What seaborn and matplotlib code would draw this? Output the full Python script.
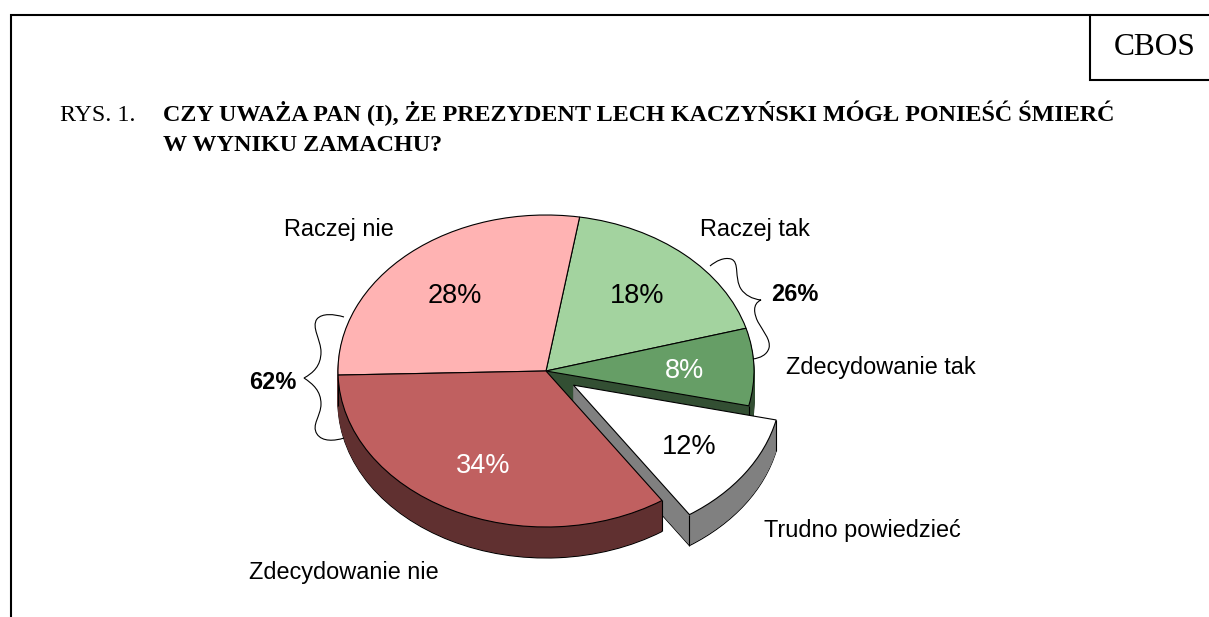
import numpy as np
import seaborn as sns
import matplotlib.pyplot as plt
from matplotlib.path import Path
from matplotlib.patches import PathPatch

categories = ["Raczej tak", "Zdecydowanie tak", "Trudno powiedzieć", "Zdecydowanie nie", "Raczej nie"]
values = [18, 8, 12, 34, 28]
explode = [0, 0, 0.16, 0, 0]
top_colors = ["#a3d39f", "#669e66", "#ffffff", "#c06060", "#ffb3b3"]
group_labels = ["26%", "62%"]
title_prefix = "RYS. 1."
title_lines = ["CZY UWAŻA PAN (I), ŻE PREZYDENT LECH KACZYŃSKI MÓGŁ PONIEŚĆ ŚMIERĆ",
               "W WYNIKU ZAMACHU?"]

W, H = 1209, 617
# ellipse of the pie in pixels
CX, CY, RX, RY = 546, 371, 208, 156
DEPTH = 31
START = 80.7

sns.set_theme(style="white")
fig = plt.figure(figsize=(W / 100, H / 100), dpi=100, facecolor="white")

# pie axes: unit circle stretched to the ellipse
ax = fig.add_axes([0, 0, 1, 1])
side_colors = [tuple(c * 0.5 for c in col) for col in sns.color_palette(top_colors)]


def layer(dy, colors, keep, lw):
    ec = "black" if lw > 0 else "none"
    wedges, _ = ax.pie(values, explode=explode, colors=colors, startangle=START,
                       counterclock=False, center=(0, -dy / RY), radius=1,
                       frame=False, wedgeprops=dict(edgecolor=ec, linewidth=lw))
    for i, w in enumerate(wedges):
        if i not in keep:
            w.remove()
        elif lw == 0:
            w.set_edgecolor(side_colors[i])
            w.set_linewidth(0.6)


def stack(keep):
    layer(DEPTH, side_colors, keep, 0.8)
    for dy in range(DEPTH - 1, 0, -1):
        layer(dy, side_colors, keep, 0)
    # vertical edges at the ends of each slice
    ends = np.cumsum(values) / sum(values) * 360
    for i in keep:
        a0 = np.radians(START - (ends[i] - values[i] / sum(values) * 360))
        a1 = np.radians(START - ends[i])
        mid = (a0 + a1) / 2
        ox, oy = explode[i] * np.cos(mid), explode[i] * np.sin(mid)
        for a in (a0, a1):
            x = ox + np.cos(a)
            y = oy + np.sin(a)
            if y < 0.0:
                ax.plot([x, x], [y, y - DEPTH / RY], color="black", lw=0.8,
                        solid_capstyle="butt", zorder=1)
    layer(0, top_colors, keep, 0.8)


# back slices first, the pulled out slice over them, the red slice in front
stack([0, 1, 4])
stack([2])
stack([3])

ax.set_aspect("auto")
ax.set_xlim(-CX / RX, (W - CX) / RX)
ax.set_ylim((CY - H) / RY, CY / RY)
ax.axis("off")

# overlay in pixel coordinates for frame, text and braces
ov = fig.add_axes([0, 0, 1, 1], facecolor="none")
ov.set_xlim(0, W)
ov.set_ylim(H, 0)
ov.axis("off")

ov.plot([11, 11, W], [H, 15, 15], color="black", lw=1.5, solid_joinstyle="miter")
ov.plot([1090, 1090, W], [15, 80, 80], color="black", lw=1.5, solid_joinstyle="miter")

SERIF = "Liberation Serif"
SANS = "Liberation Sans"


def label(x, y, s, size=16.9, color="black", weight="normal", family=SANS):
    ov.text(x, y, s, fontsize=size, color=color, fontweight=weight, family=family,
            ha="left", va="baseline")


label(1114, 55, "CBOS", size=22.6, family=SERIF)
label(60, 121, title_prefix, size=17.3, family=SERIF)
label(163, 121, title_lines[0], size=17.35, weight="bold", family=SERIF)
label(163, 151, title_lines[1], size=17.35, weight="bold", family=SERIF)

label(700, 236, categories[0])
label(786, 374, categories[1])
label(764, 537, categories[2])
label(249, 579, categories[3])
label(284, 236, categories[4])

label(610, 303, f"{values[0]}%", size=19.5)
label(665, 378, f"{values[1]}%", size=19.5, color="white")
label(662, 454, f"{values[2]}%", size=19.5)
label(456, 473, f"{values[3]}%", size=19.5, color="white")
label(428, 303, f"{values[4]}%", size=19.5)

label(771, 301, group_labels[0], weight="bold")
label(249, 389, group_labels[1], weight="bold")

# curly braces
brace_right = [(710, 266), (716, 261), (724, 257), (731, 259), (740, 262), (734, 278),
               (741, 289), (745, 295), (752, 299), (761, 300), (752, 304), (754, 314),
               (758, 322), (763, 331), (771, 340), (769, 348), (767, 355), (760, 358), (753, 359)]
brace_left = [(344, 317), (334, 314), (322, 313), (317, 319), (311, 327), (321, 340),
               (321, 352), (321, 366), (313, 373), (304, 378), (313, 384), (321, 391),
               (321, 404), (321, 416), (311, 425), (317, 434), (322, 442), (335, 441), (344, 438)]
for pts in (brace_right, brace_left):
    codes = [Path.MOVETO] + [Path.CURVE4] * (len(pts) - 1)
    ov.add_patch(PathPatch(Path(pts, codes), fc="none", ec="black", lw=0.8))

fig.savefig("out.png", dpi=100, facecolor="white")
